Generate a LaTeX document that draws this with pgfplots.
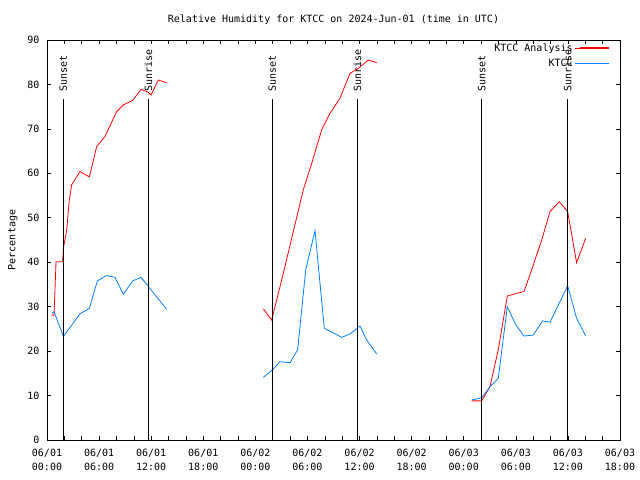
\documentclass[border=0pt]{standalone}
\usepackage{fontspec}
\setmainfont{DejaVu Sans Mono}
\usepackage{pgfplots}
\pgfplotsset{compat=1.18}
\definecolor{ktccred}{RGB}{255,0,0}
\definecolor{ktccblue}{RGB}{0,128,255}
\newcommand{\gfont}{\fontsize{10bp}{14bp}\selectfont}
\begin{document}
\begin{tikzpicture}[font=\gfont]
\path[use as bounding box] (-47bp,-40bp) rectangle (593bp,440bp);
\begin{axis}[
  at={(0bp,0bp)}, anchor=south west,
  scale only axis, width=573bp, height=400bp,
  xmin=0, xmax=66, ymin=0, ymax=90,
  xtick={0,6,...,66},
  xticklabels={06/01\\00:00,06/01\\06:00,06/01\\12:00,06/01\\18:00,
               06/02\\00:00,06/02\\06:00,06/02\\12:00,06/02\\18:00,
               06/03\\00:00,06/03\\06:00,06/03\\12:00,06/03\\18:00},
  minor xtick={2,4,...,64},
  ytick={0,10,...,90},
  tick align=inside,
  major tick length=4bp, minor tick length=4bp,
  tick style={black, line width=0.6bp},
  axis line style={line width=0.8bp},
  tick label style={font=\gfont},
  xticklabel style={align=center, yshift=-6bp},
  yticklabel style={xshift=-4bp},
  /pgf/number format/assume math mode=true,
  title={Relative Humidity for KTCC on 2024-Jun-01 (time in UTC)},
  title style={font=\gfont, at={(0.5,1)}, anchor=base, yshift=12bp},
  ylabel={Percentage},
  ylabel style={font=\gfont, at={(0,0.5)}, yshift=26bp},
  legend style={draw=none, fill=none, at={(1,1)}, anchor=north east,
    xshift=-10bp, yshift=-1.5bp, font=\gfont, legend cell align=right,
    row sep=2.5bp, inner sep=0pt},
  legend plot pos=right,
  legend image code/.code={\path (0bp,0bp) -- (5bp,0bp);
    \draw[#1] (5bp,0.3bp) -- (34bp,0.3bp);},
  unbounded coords=jump,
]
\addlegendimage{draw=ktccred, line width=1.2bp}
\addlegendentry{KTCC Analysis}
\addlegendimage{draw=ktccblue, line width=1.2bp}
\addlegendentry{KTCC}
% KTCC Analysis
\addplot[color=ktccred, line width=0.8bp, forget plot] coordinates {
 (0.54,28.1) (0.81,28.1) (1.04,40.1) (1.80,40.1) (1.88,43.1) (2.27,47.2)
 (2.57,54.0) (2.84,57.4) (3.80,60.4) (4.88,59.2) (5.72,66.0) (6.68,68.3)
 (8.02,73.9) (8.79,75.4) (9.87,76.4) (10.83,78.9) (11.6,78.3) (11.98,77.6)
 (12.82,81.0) (13.78,80.4)
 (20,nan)
 (24.92,29.5) (25.88,27.0) (27.22,37.5) (28.37,46.9) (29.52,56.3) (30.48,62.2)
 (31.64,69.8) (32.6,73.5) (33.75,76.9) (34.9,82.5) (35.86,83.6) (37.0,85.5)
 (37.98,84.9)
 (45,nan)
 (48.92,8.8) (50.07,8.8) (51.02,12.0) (51.98,20.3) (53.02,32.4) (53.9,32.9)
 (54.94,33.4) (55.83,38.3) (56.98,45.0) (57.94,51.4) (59.0,53.6) (59.97,51.4)
 (61.0,39.9) (62.05,45.4)
};
% KTCC
\addplot[color=ktccblue, line width=0.8bp, forget plot] coordinates {
 (0.54,28.5) (0.81,28.9) (1.88,23.3) (3.80,28.4) (4.88,29.6) (5.80,35.8)
 (6.88,37.0) (7.83,36.6) (8.79,32.8) (9.87,35.8) (10.83,36.6) (13.78,29.4)
 (20,nan)
 (24.92,14.1) (25.95,15.75) (26.84,17.6) (27.99,17.4) (28.87,20.3) (29.8,38.3)
 (30.87,47.1) (31.94,25.1) (32.98,24.1) (33.94,23.1) (34.9,23.85) (36.05,25.65)
 (36.82,22.5) (37.98,19.35)
 (45,nan)
 (48.92,9.0) (50.07,9.5) (50.95,11.8) (51.98,13.9) (53.02,30.0) (54.0,25.9)
 (54.94,23.4) (56.0,23.6) (57.08,26.8) (57.94,26.5) (59.0,30.8) (59.97,34.7)
 (61.0,27.4) (62.05,23.4)
};
% sunset / sunrise markers
\addplot[black, line width=0.8bp, forget plot] coordinates {(1.88,0) (1.88,76.7)};
\addplot[black, line width=0.8bp, forget plot] coordinates {(11.67,0) (11.67,76.7)};
\addplot[black, line width=0.8bp, forget plot] coordinates {(25.95,0) (25.95,76.7)};
\addplot[black, line width=0.8bp, forget plot] coordinates {(35.74,0) (35.74,76.7)};
\addplot[black, line width=0.8bp, forget plot] coordinates {(50.07,0) (50.07,76.7)};
\addplot[black, line width=0.8bp, forget plot] coordinates {(59.97,0) (59.97,76.7)};
\node[rotate=90, anchor=west, inner sep=0pt] at (axis cs:1.88,78.3) {Sunset};
\node[rotate=90, anchor=west, inner sep=0pt] at (axis cs:11.67,78.3) {Sunrise};
\node[rotate=90, anchor=west, inner sep=0pt] at (axis cs:25.95,78.3) {Sunset};
\node[rotate=90, anchor=west, inner sep=0pt] at (axis cs:35.74,78.3) {Sunrise};
\node[rotate=90, anchor=west, inner sep=0pt] at (axis cs:50.07,78.3) {Sunset};
\node[rotate=90, anchor=west, inner sep=0pt] at (axis cs:59.97,78.3) {Sunrise};
\end{axis}
\end{tikzpicture}
\end{document}
